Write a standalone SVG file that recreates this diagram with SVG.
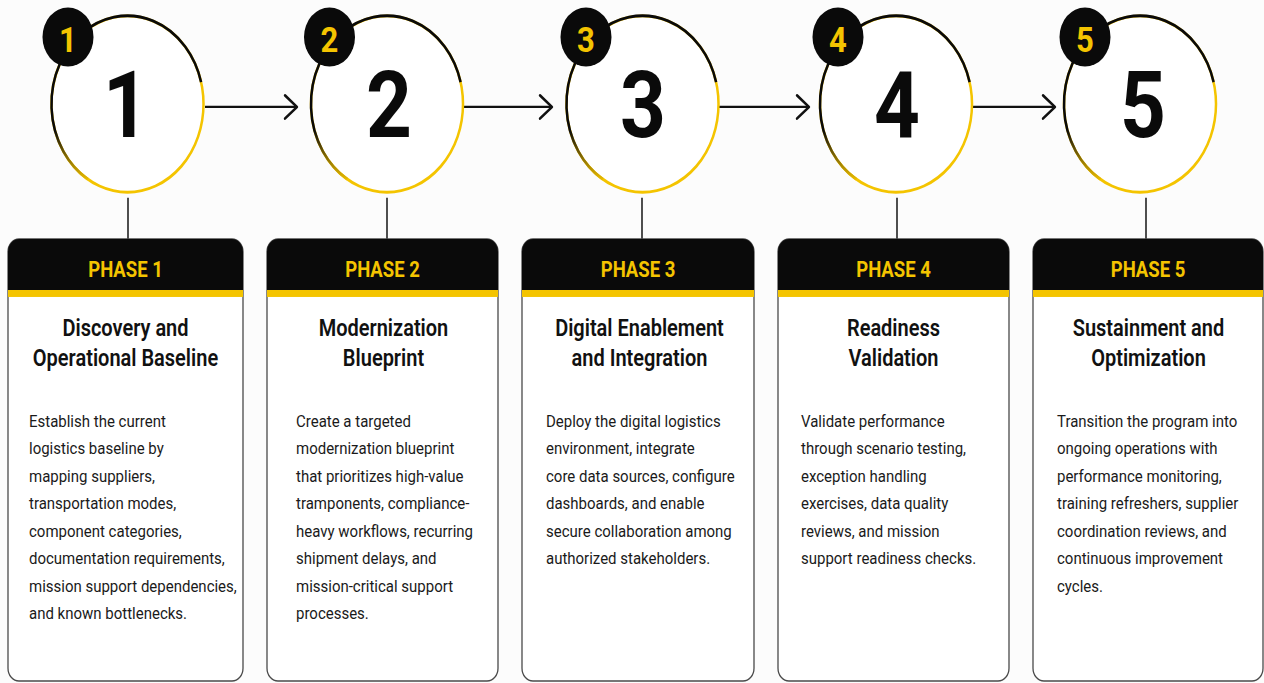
<svg xmlns="http://www.w3.org/2000/svg" width="1264" height="683" viewBox="0 0 1264 683">
  <defs>
    <style>
      .ring-base { fill: #ffffff; stroke: #F4C400; stroke-width: 2.5; }
      .ring-top { fill: none; stroke: url(#ringFade); stroke-width: 2.5; }
      .badge { fill: #0a0a0a; }
      .badge-num { font-family: Roboto, "Liberation Sans", sans-serif; font-weight: 700; font-size: 31px; fill: #F4C400; text-anchor: middle; }
      .big-num { font-family: Roboto, "Liberation Sans", sans-serif; font-weight: 700; font-size: 80px; fill: #0a0a0a; text-anchor: middle; }
      .card { fill: #ffffff; stroke: #4a4a4a; stroke-width: 1.3; }
      .card-head { fill: #0a0a0a; }
      .card-strip { fill: #F4C400; }
      .phase { font-family: Roboto, "Liberation Sans", sans-serif; font-weight: 700; font-size: 18.5px; fill: #F4C400; text-anchor: middle; }
      .title { font-family: Roboto, "Liberation Sans", sans-serif; font-weight: 600; font-size: 20px; fill: #111111; text-anchor: middle; }
      .body { font-family: Roboto, "Liberation Sans", sans-serif; font-weight: 400; font-size: 15px; fill: #1a1a1a; }
      .link { stroke: #111111; stroke-width: 2; fill: none; }
      .stem { stroke: #222222; stroke-width: 1.6; fill: none; }
    </style>
    <linearGradient id="ringFade" gradientUnits="userSpaceOnUse" x1="0" y1="112" x2="0" y2="157">
      <stop offset="0" stop-color="#0a0a0a"/>
      <stop offset="1" stop-color="#F4C400"/>
    </linearGradient>
    <marker id="chev" markerUnits="userSpaceOnUse" markerWidth="16" markerHeight="24" viewBox="-14 -12 16 24" refX="0" refY="0" orient="auto">
      <path d="M -12 -10 L 0 0 L -12 10" fill="none" stroke="#111111" stroke-width="2.4" stroke-linecap="round" stroke-linejoin="round"/>
    </marker>
  </defs>

  <rect width="1264" height="683" fill="#fcfcfc"/>

  <!-- layout is drawn in a slightly taller-than-wide frame -->
  <g transform="scale(1,1.16)">

    <!-- connectors: arrows between rings and stems down to the cards -->
    <g id="connectors">
      <line class="link" x1="205" y1="92.2" x2="297" y2="92.2" marker-end="url(#chev)"/>
      <line class="link" x1="464" y1="92.2" x2="552" y2="92.2" marker-end="url(#chev)"/>
      <line class="link" x1="719" y1="92.2" x2="809" y2="92.2" marker-end="url(#chev)"/>
      <line class="link" x1="973" y1="92.2" x2="1055" y2="92.2" marker-end="url(#chev)"/>
      <line class="stem" x1="128" y1="170.5" x2="128" y2="206"/>
      <line class="stem" x1="387" y1="170.5" x2="387" y2="206"/>
      <line class="stem" x1="642" y1="170.5" x2="642" y2="206"/>
      <line class="stem" x1="897" y1="170.5" x2="897" y2="206"/>
      <line class="stem" x1="1146" y1="170.5" x2="1146" y2="206"/>
    </g>

    <!-- ring markers -->
    <g id="ring-1">
      <circle class="ring-base" cx="127.5" cy="89.7" r="76"/>
      <path class="ring-top" d="M 201.1 70.8 A 76 76 0 1 0 87.9 154.5"/>
      <circle class="badge" cx="68" cy="31.9" r="25.5"/>
      <text class="badge-num" x="68" y="44.6">1</text>
      <text class="big-num" x="126" y="118">1</text>
    </g>
    <g id="ring-2">
      <circle class="ring-base" cx="387" cy="89.7" r="76"/>
      <path class="ring-top" d="M 460.6 70.8 A 76 76 0 1 0 347.4 154.5"/>
      <circle class="badge" cx="329.5" cy="31.9" r="25.5"/>
      <text class="badge-num" x="329.5" y="44.6">2</text>
      <text class="big-num" x="389" y="118">2</text>
    </g>
    <g id="ring-3">
      <circle class="ring-base" cx="642.5" cy="89.7" r="76"/>
      <path class="ring-top" d="M 716.1 70.8 A 76 76 0 1 0 602.9 154.5"/>
      <circle class="badge" cx="586" cy="31.9" r="25.5"/>
      <text class="badge-num" x="586" y="44.6">3</text>
      <text class="big-num" x="643" y="118">3</text>
    </g>
    <g id="ring-4">
      <circle class="ring-base" cx="896" cy="89.7" r="76"/>
      <path class="ring-top" d="M 969.6 70.8 A 76 76 0 1 0 856.4 154.5"/>
      <circle class="badge" cx="838" cy="31.9" r="25.5"/>
      <text class="badge-num" x="838" y="44.6">4</text>
      <text class="big-num" x="897" y="118">4</text>
    </g>
    <g id="ring-5">
      <circle class="ring-base" cx="1140" cy="89.7" r="76"/>
      <path class="ring-top" d="M 1213.6 70.8 A 76 76 0 1 0 1100.4 154.5"/>
      <circle class="badge" cx="1085" cy="31.9" r="25.5"/>
      <text class="badge-num" x="1085" y="44.6">5</text>
      <text class="big-num" x="1143" y="118">5</text>
    </g>

    <!-- phase cards -->
    <g id="card-1">
      <rect class="card" x="8" y="206" width="235" height="381" rx="11" ry="11"/>
      <path class="card-head" d="M 8 250 V 217 A 11 11 0 0 1 19 206 H 232 A 11 11 0 0 1 243 217 V 250 Z"/>
      <rect class="card-strip" x="8" y="250" width="235" height="6"/>
      <text class="phase" x="125.5" y="238.8">PHASE 1</text>
      <text class="title" x="125.5" y="289.7">Discovery and</text>
      <text class="title" x="125.5" y="315.3">Operational Baseline</text>
      <text class="body" x="29" y="368.1">
        <tspan x="29" dy="0">Establish the current</tspan>
        <tspan x="29" dy="23.7">logistics baseline by</tspan>
        <tspan x="29" dy="23.7">mapping suppliers,</tspan>
        <tspan x="29" dy="23.7">transportation modes,</tspan>
        <tspan x="29" dy="23.7">component categories,</tspan>
        <tspan x="29" dy="23.7">documentation requirements,</tspan>
        <tspan x="29" dy="23.7">mission support dependencies,</tspan>
        <tspan x="29" dy="23.7">and known bottlenecks.</tspan>
      </text>
    </g>

    <g id="card-2">
      <rect class="card" x="267" y="206" width="231" height="381" rx="11" ry="11"/>
      <path class="card-head" d="M 267 250 V 217 A 11 11 0 0 1 278 206 H 487 A 11 11 0 0 1 498 217 V 250 Z"/>
      <rect class="card-strip" x="267" y="250" width="231" height="6"/>
      <text class="phase" x="382.5" y="238.8">PHASE 2</text>
      <text class="title" x="383.5" y="289.7">Modernization</text>
      <text class="title" x="383.5" y="315.3">Blueprint</text>
      <text class="body" x="296" y="368.1">
        <tspan x="296" dy="0">Create a targeted</tspan>
        <tspan x="296" dy="23.7">modernization blueprint</tspan>
        <tspan x="296" dy="23.7">that prioritizes high-value</tspan>
        <tspan x="296" dy="23.7">tramponents, compliance-</tspan>
        <tspan x="296" dy="23.7">heavy workflows, recurring</tspan>
        <tspan x="296" dy="23.7">shipment delays, and</tspan>
        <tspan x="296" dy="23.7">mission-critical support</tspan>
        <tspan x="296" dy="23.7">processes.</tspan>
      </text>
    </g>

    <g id="card-3">
      <rect class="card" x="522" y="206" width="232" height="381" rx="11" ry="11"/>
      <path class="card-head" d="M 522 250 V 217 A 11 11 0 0 1 533 206 H 743 A 11 11 0 0 1 754 217 V 250 Z"/>
      <rect class="card-strip" x="522" y="250" width="232" height="6"/>
      <text class="phase" x="638" y="238.8">PHASE 3</text>
      <text class="title" x="639.5" y="289.7">Digital Enablement</text>
      <text class="title" x="639.5" y="315.3">and Integration</text>
      <text class="body" x="546" y="368.1">
        <tspan x="546" dy="0">Deploy the digital logistics</tspan>
        <tspan x="546" dy="23.7">environment, integrate</tspan>
        <tspan x="546" dy="23.7">core data sources, configure</tspan>
        <tspan x="546" dy="23.7">dashboards, and enable</tspan>
        <tspan x="546" dy="23.7">secure collaboration among</tspan>
        <tspan x="546" dy="23.7">authorized stakeholders.</tspan>
      </text>
    </g>

    <g id="card-4">
      <rect class="card" x="778" y="206" width="231" height="381" rx="11" ry="11"/>
      <path class="card-head" d="M 778 250 V 217 A 11 11 0 0 1 789 206 H 998 A 11 11 0 0 1 1009 217 V 250 Z"/>
      <rect class="card-strip" x="778" y="250" width="231" height="6"/>
      <text class="phase" x="893.5" y="238.8">PHASE 4</text>
      <text class="title" x="893.5" y="289.7">Readiness</text>
      <text class="title" x="893.5" y="315.3">Validation</text>
      <text class="body" x="801" y="368.1">
        <tspan x="801" dy="0">Validate performance</tspan>
        <tspan x="801" dy="23.7">through scenario testing,</tspan>
        <tspan x="801" dy="23.7">exception handling</tspan>
        <tspan x="801" dy="23.7">exercises, data quality</tspan>
        <tspan x="801" dy="23.7">reviews, and mission</tspan>
        <tspan x="801" dy="23.7">support readiness checks.</tspan>
      </text>
    </g>

    <g id="card-5">
      <rect class="card" x="1033" y="206" width="230" height="381" rx="11" ry="11"/>
      <path class="card-head" d="M 1033 250 V 217 A 11 11 0 0 1 1044 206 H 1252 A 11 11 0 0 1 1263 217 V 250 Z"/>
      <rect class="card-strip" x="1033" y="250" width="230" height="6"/>
      <text class="phase" x="1148" y="238.8">PHASE 5</text>
      <text class="title" x="1148.5" y="289.7">Sustainment and</text>
      <text class="title" x="1148.5" y="315.3">Optimization</text>
      <text class="body" x="1057" y="368.1">
        <tspan x="1057" dy="0">Transition the program into</tspan>
        <tspan x="1057" dy="23.7">ongoing operations with</tspan>
        <tspan x="1057" dy="23.7">performance monitoring,</tspan>
        <tspan x="1057" dy="23.7">training refreshers, supplier</tspan>
        <tspan x="1057" dy="23.7">coordination reviews, and</tspan>
        <tspan x="1057" dy="23.7">continuous improvement</tspan>
        <tspan x="1057" dy="23.7">cycles.</tspan>
      </text>
    </g>
  </g>
</svg>
